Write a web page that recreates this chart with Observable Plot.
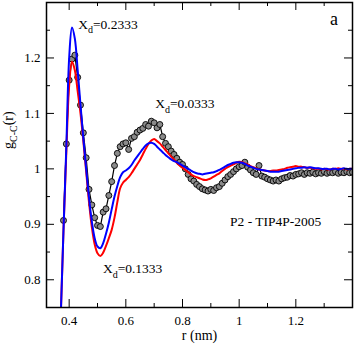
<!DOCTYPE html>
<html><head><meta charset="utf-8">
<script src="https://cdn.jsdelivr.net/npm/d3@7"></script>
<script src="https://cdn.jsdelivr.net/npm/@observablehq/plot@0.6"></script>
<style>body{margin:0;background:#fff} svg text{font-family:"Liberation Serif","LiberationSerif","Tinos","Times New Roman","Times","DejaVu Serif","Noto Serif",serif !important;}</style>
</head><body><div id="chart"></div>
<script>
const rValues = [0.36,0.37,0.38,0.39,0.40,0.41,0.42,0.43,0.44,0.45,0.46,0.47,0.48,0.49,0.50,0.51,0.52,0.53,0.54,0.55,0.56,0.57,0.58,0.59,0.60,0.61,0.62,0.63,0.64,0.65,0.66,0.67,0.68,0.69,0.70,0.71,0.72,0.73,0.74,0.75,0.76,0.77,0.78,0.79,0.80,0.81,0.82,0.83,0.84,0.85,0.86,0.87,0.88,0.89,0.90,0.91,0.92,0.93,0.94,0.95,0.96,0.97,0.98,0.99,1.00,1.01,1.02,1.03,1.04,1.05,1.06,1.07,1.08,1.09,1.10,1.11,1.12,1.13,1.14,1.15,1.16,1.17,1.18,1.19,1.20,1.21,1.22,1.23,1.24,1.25,1.26,1.27,1.28,1.29,1.30,1.31,1.32,1.33,1.34,1.35,1.36,1.37,1.38,1.39,1.40];

// X_d = 0.2333 (blue)
const blueG = [0.55,0.73,0.89,1.04,1.2,1.255,1.235,1.178,1.115,1.055,1.0,0.948,0.905,0.875,0.86,0.857,0.866,0.883,0.903,0.927,0.95,0.969,0.985,0.994,0.997,1.001,1.007,1.015,1.022,1.029,1.036,1.042,1.046,1.047,1.045,1.04,1.035,1.03,1.025,1.021,1.017,1.014,1.012,1.009,1.006,1.003,1.0,0.997,0.994,0.992,0.991,0.99,0.991,0.992,0.993,0.994,0.996,0.998,1.001,1.004,1.007,1.009,1.011,1.012,1.012,1.011,1.009,1.006,1.004,1.002,1.0,0.999,0.998,0.997,0.996,0.995,0.995,0.995,0.995,0.996,0.997,0.998,0.999,1.0,1.001,1.002,1.002,1.003,1.002,1.003,1.002,1.001,1.001,1.0,1.0,1.0,0.999,1.0,1.0,0.999,1.0,1.001,1.0,1.0,1.0];

// X_d = 0.1333 (red)
const redG = [0.56,0.73,0.89,1.03,1.15,1.193,1.178,1.14,1.1,1.05,0.995,0.94,0.895,0.864,0.848,0.843,0.849,0.861,0.875,0.89,0.912,0.94,0.965,0.975,0.98,0.985,0.992,1.0,1.008,1.016,1.026,1.036,1.045,1.051,1.054,1.05,1.046,1.04,1.034,1.028,1.022,1.017,1.011,1.006,1.002,0.998,0.994,0.99,0.987,0.985,0.983,0.981,0.98,0.981,0.983,0.986,0.989,0.992,0.996,1.0,1.003,1.006,1.008,1.011,1.013,1.012,1.01,1.008,1.005,1.003,1.001,0.999,0.998,0.997,0.996,0.996,0.997,0.997,0.998,0.999,1.0,1.002,1.003,1.004,1.005,1.004,1.004,1.003,1.002,1.002,1.001,1.0,1.0,0.999,1.0,0.999,0.999,1.0,1.0,1.001,1.0,1.0,0.999,1.0,1.0];

// X_d = 0.0333 (black with circles)
const blackG = [null,null,0.907,1.045,1.16,1.198,1.205,1.165,1.115,1.065,1.02,0.963,0.935,0.912,0.898,0.896,0.922,0.928,0.952,0.977,1.006,1.028,1.04,1.045,1.047,1.035,1.055,1.058,1.066,1.07,1.073,1.08,1.077,1.086,1.083,1.074,1.08,1.058,1.046,1.04,1.032,1.026,1.019,1.012,1.008,1.0,0.99,0.982,0.978,0.972,0.968,0.964,0.962,0.96,0.963,0.961,0.966,0.968,0.974,0.98,0.986,0.99,0.995,1.0,1.004,1.006,1.012,1.003,0.998,0.993,0.99,1.006,0.987,0.985,0.982,0.98,0.978,0.98,0.978,0.982,0.984,0.985,0.988,0.987,0.99,0.991,0.993,0.99,0.993,0.992,0.994,0.991,0.993,0.992,0.995,0.992,0.994,0.993,0.995,0.992,0.994,0.993,0.995,0.993,0.994];

const xDomain = [0.32, 1.4];
const yDomain = [0.75, 1.3];
const xMajor = [0.4, 0.6, 0.8, 1, 1.2];
const xMinor = [0.5, 0.7, 0.9, 1.1, 1.3];
const yMajor = [0.8, 0.9, 1, 1.1, 1.2];
const yMinor = [0.85, 0.95, 1.05, 1.15, 1.25];
const annotations = [
  {text: "X_{d}=0.2333", r: 0.4318, g: 1.2524},
  {text: "X_{d}=0.0333", r: 0.7034, g: 1.1091},
  {text: "X_{d}=0.1333", r: 0.519, g: 0.8114},
  {text: "P2 - TIP4P-2005", r: 0.968, g: 0.8976}
];
const panelLabel = [{text: "a", r: 1.3207, g: 1.26}];
const xLabel = ["r (nm)"];
const yLabel = ["g_{C-C}(r)"];

const series = (vals) => rValues.map((r, i) => ({r, g: vals[i]}));

const W = 354, H = 344, mL = 46, mR = 2, mT = 2, mB = 37;
const fw = W - mL - mR, fh = H - mT - mB;

const chart = Plot.plot({
  width: W, height: H,
  marginLeft: mL, marginRight: mR, marginTop: mT, marginBottom: mB,
  x: {domain: xDomain},
  y: {domain: yDomain},
  style: {fontSize: "13px", background: "white", color: "black"},
  marks: [
    Plot.line(series(blackG), {x: "r", y: "g", stroke: "black", strokeWidth: 1.2, clip: true}),
    Plot.dot(series(blackG), {x: "r", y: "g", r: 3, fill: "#8a8a8a", stroke: "black", strokeWidth: 0.9, clip: true}),
    Plot.line(series(redG), {x: "r", y: "g", stroke: "#ff0000", strokeWidth: 2, curve: "catmull-rom", clip: true}),
    Plot.line(series(blueG), {x: "r", y: "g", stroke: "#0000ff", strokeWidth: 2, curve: "catmull-rom", clip: true}),
    Plot.tickX(xMajor, {x: d => d, insetTop: fh - 8, stroke: "black"}),
    Plot.tickX(xMajor, {x: d => d, insetBottom: fh - 8, stroke: "black"}),
    Plot.tickX(xMinor, {x: d => d, insetTop: fh - 4, stroke: "black"}),
    Plot.tickX(xMinor, {x: d => d, insetBottom: fh - 4, stroke: "black"}),
    Plot.tickY(yMajor, {y: d => d, insetRight: fw - 8, stroke: "black"}),
    Plot.tickY(yMajor, {y: d => d, insetLeft: fw - 8, stroke: "black"}),
    Plot.tickY(yMinor, {y: d => d, insetRight: fw - 4, stroke: "black"}),
    Plot.tickY(yMinor, {y: d => d, insetLeft: fw - 4, stroke: "black"}),
    Plot.axisX(xMajor, {tickSize: 0, tickPadding: 8, tickFormat: d => String(d), label: null, fontSize: 13}),
    Plot.axisY(yMajor, {tickSize: 0, tickPadding: 6, tickFormat: d => String(d), label: null, fontSize: 13}),
    Plot.frame({stroke: "black", strokeWidth: 1.5}),
    Plot.text(annotations, {x: "r", y: "g", text: "text", textAnchor: "start", lineAnchor: "bottom", fontSize: 13.5}),
    Plot.text(panelLabel, {x: "r", y: "g", text: "text", textAnchor: "start", lineAnchor: "bottom", fontSize: 18}),
    Plot.text(xLabel, {frameAnchor: "bottom", dy: 32, lineAnchor: "bottom", fontSize: 14}),
    Plot.text(yLabel, {frameAnchor: "left", dx: -38, dy: -6, rotate: -90, fontSize: 14})
  ]
});

// render subscripts as real text with tspans
d3.select(chart).selectAll("text").each(function() {
  const s = this.textContent;
  const m = s.match(/^(.*?)_\{(.*?)\}(.*)$/);
  if (!m) return;
  const sel = d3.select(this);
  sel.text(null);
  sel.append("tspan").text(m[1]);
  sel.append("tspan").attr("dy", "4.5px").attr("font-size", "10px").text(m[2]);
  sel.append("tspan").attr("dy", "-4.5px").text(m[3]);
});

document.getElementById("chart").appendChild(chart);
</script>
</body></html>
